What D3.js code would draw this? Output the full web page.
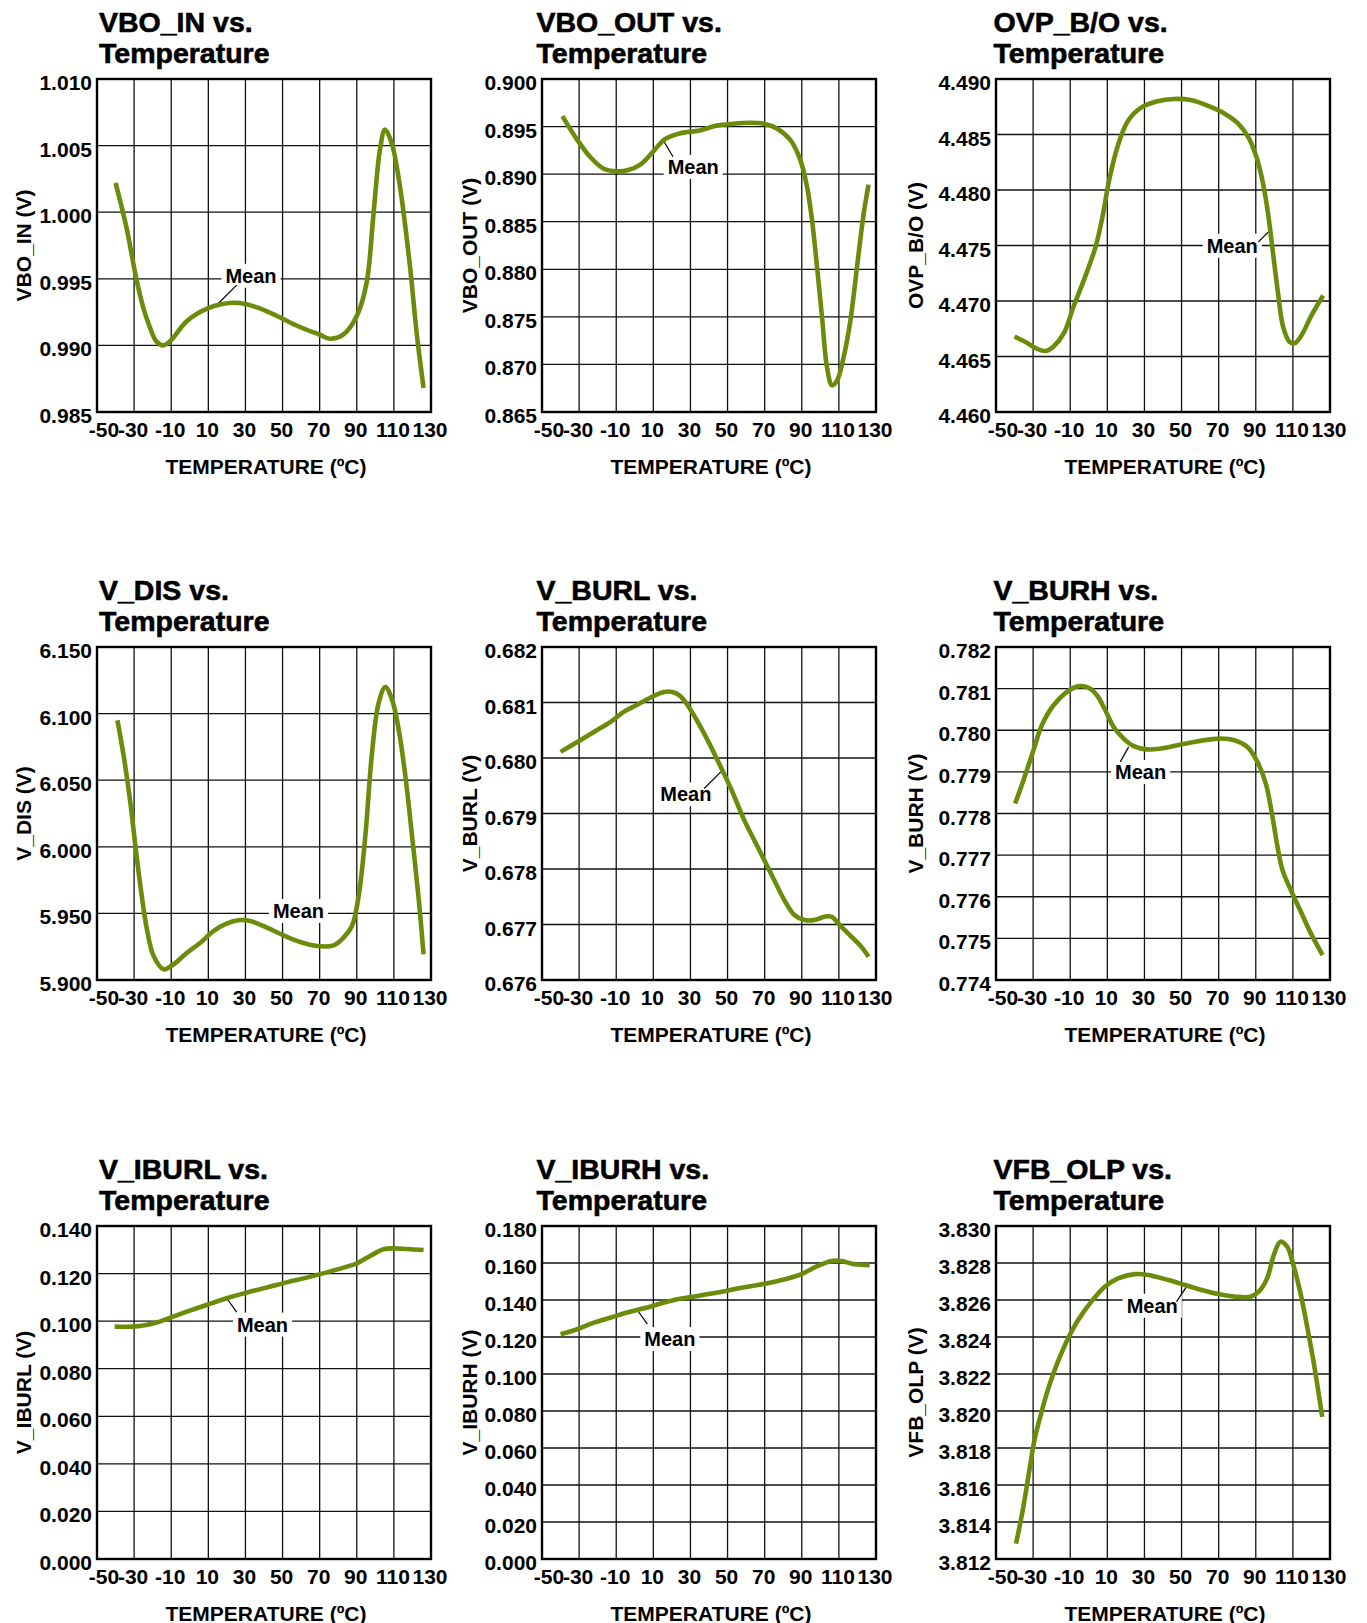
<!DOCTYPE html>
<html>
<head>
<meta charset="utf-8">
<script src="https://cdn.jsdelivr.net/npm/d3@7"></script>
<style>
  body { margin: 0; background: #fff; }
  svg text { font-family: "Liberation Sans", Arial, Helvetica, sans-serif; }
</style>
</head>
<body>
<div id="chart"></div>
<script>
// x axis, shared by every panel
var tempTicks = [-50, -30, -10, 10, 30, 50, 70, 90, 110, 130];

// VBO_IN
var vboInT = [-40, -34.2, -28.8, -25.2, -21.6, -18, -14.4, -10, -1.8, 10, 23, 30, 41, 50, 59, 70, 75.5, 82.7, 90, 95.3, 98.9, 102.5, 105.2, 108.8, 113.3, 118.7, 122.3, 126];
var vboInV = [1.0022, 0.9989, 0.9950, 0.9929, 0.9914, 0.9903, 0.9900, 0.9904, 0.9918, 0.9928, 0.9932, 0.9931, 0.9926, 0.9920, 0.9914, 0.9908, 0.9905, 0.9908, 0.9922, 0.9947, 0.9997, 1.0047, 1.0062, 1.0052, 1.0019, 0.9959, 0.9909, 0.9868];
var vboInTicks = [0.985, 0.990, 0.995, 1.000, 1.005, 1.010];

// VBO_OUT
var vboOutT = [-39, -31, -24, -17, -9.6, -4, 3, 10, 16.5, 24.6, 35, 44, 53, 62, 69.5, 76.6, 83.8, 89.2, 92.8, 95.5, 98.2, 100.9, 103.6, 106.3, 109, 112.6, 116.2, 119.8, 123.4, 126];
var vboOutV = [0.8961, 0.8936, 0.8918, 0.8906, 0.8903, 0.8904, 0.8910, 0.8924, 0.8937, 0.8943, 0.8946, 0.8951, 0.8953, 0.8954, 0.8953, 0.8948, 0.8936, 0.8915, 0.8887, 0.8852, 0.8803, 0.8750, 0.8697, 0.8678, 0.8683, 0.8708, 0.8746, 0.8803, 0.8859, 0.8889];
var vboOutTicks = [0.865, 0.870, 0.875, 0.880, 0.885, 0.890, 0.895, 0.900];

// OVP_B/O
var ovpT = [-40, -33, -28, -23, -19, -13.4, -8, -2.6, 3.7, 7.4, 11, 15.5, 21, 28, 37, 46, 55, 64, 73, 80.4, 85.8, 90.3, 93.9, 96.6, 99.3, 102, 104.7, 108.3, 111, 114.6, 120, 126.3];
var ovpV = [4.4668, 4.4662, 4.4657, 4.4655, 4.4659, 4.4671, 4.4696, 4.4719, 4.4749, 4.4776, 4.4809, 4.4839, 4.4862, 4.4874, 4.4880, 4.4882, 4.4881, 4.4876, 4.4869, 4.4860, 4.4848, 4.4830, 4.4806, 4.4779, 4.4743, 4.4707, 4.4677, 4.4663, 4.4662, 4.4669, 4.4687, 4.4705];
var ovpTicks = [4.460, 4.465, 4.470, 4.475, 4.480, 4.485, 4.490];

// V_DIS
var vDisT = [-39, -35.6, -32, -29.3, -26.6, -23.1, -19.5, -14.1, -8.7, -1.5, 5.7, 12.9, 20.1, 27.2, 32.6, 41.6, 50.6, 59.6, 68.6, 77.5, 82.9, 87.4, 91, 94.6, 98.2, 101.8, 105.4, 109, 112.6, 116.2, 119.8, 123.4, 126];
var vDisV = [6.095, 6.068, 6.033, 6.0005, 5.9705, 5.938, 5.918, 5.908, 5.9118, 5.9205, 5.928, 5.9368, 5.9425, 5.945, 5.9443, 5.9393, 5.9335, 5.9285, 5.9255, 5.926, 5.9318, 5.9405, 5.963, 6.008, 6.0705, 6.108, 6.120, 6.1105, 6.088, 6.053, 6.008, 5.9605, 5.9193];
var vDisTicks = [5.900, 5.950, 6.000, 6.050, 6.100, 6.150];

// V_BURL
var vBurlT = [-40, -31, -22, -13, -6, 1.4, 8.6, 15.8, 20.3, 24.8, 30.2, 37.4, 44.6, 51.8, 59, 66.2, 73.4, 80.6, 86, 91.4, 96.8, 102.2, 105.9, 111.3, 116.7, 122.1, 126];
var vBurlV = [0.68011, 0.68029, 0.68047, 0.68065, 0.68083, 0.68096, 0.68109, 0.68119, 0.68119, 0.68111, 0.68086, 0.68044, 0.67996, 0.67945, 0.67888, 0.6784, 0.67792, 0.67744, 0.67717, 0.67708, 0.67708, 0.67714, 0.67714, 0.67696, 0.67678, 0.6766, 0.67642];
var vBurlTicks = [0.676, 0.677, 0.678, 0.679, 0.680, 0.681, 0.682];

// V_BURH
var vBurhT = [-39.7, -35.2, -29.8, -25.3, -19, -11.8, -5.5, -0.1, 4.4, 8.9, 13.4, 18.8, 24.2, 31.4, 38.6, 47.7, 56.7, 65.7, 71.1, 78.3, 85.5, 90.9, 95.4, 99, 101.7, 104.4, 108.9, 114.3, 119.7, 126];
var vBurhV = [0.77824, 0.7788, 0.77952, 0.78012, 0.7806, 0.78092, 0.78106, 0.78102, 0.78084, 0.78048, 0.78008, 0.7798, 0.77962, 0.77954, 0.77956, 0.77964, 0.77972, 0.77978, 0.7798, 0.77976, 0.7796, 0.77924, 0.77872, 0.77792, 0.7772, 0.77664, 0.77616, 0.77564, 0.77512, 0.7746];
var vBurhTicks = [0.774, 0.775, 0.776, 0.777, 0.778, 0.779, 0.780, 0.781, 0.782];

// V_IBURL
var vIburlT = [-40.5, -30.6, -23.4, -16.2, -9, 0, 9, 19.8, 30.6, 41.4, 52.2, 63, 73.8, 84.6, 90, 97.2, 104.4, 109.8, 117, 126];
var vIburlV = [0.0977, 0.0977, 0.0984, 0.0998, 0.1019, 0.1044, 0.1068, 0.1096, 0.1120, 0.1141, 0.1163, 0.1183, 0.1205, 0.1229, 0.1243, 0.1274, 0.1302, 0.1306, 0.1303, 0.1299];
var vIburlTicks = [0.000, 0.020, 0.040, 0.060, 0.080, 0.100, 0.120, 0.140];

// V_IBURH
var vIburhT = [-40, -31, -22, -13, -4, 5, 14, 23, 33.8, 44.6, 55.4, 66.2, 77, 89.6, 98.6, 105.9, 111.3, 118.5, 126.6];
var vIburhV = [0.1215, 0.1242, 0.1278, 0.1305, 0.1332, 0.1355, 0.1381, 0.1404, 0.1422, 0.1440, 0.1462, 0.1481, 0.1503, 0.1539, 0.1584, 0.1611, 0.1611, 0.1593, 0.1588];
var vIburhTicks = [0.000, 0.020, 0.040, 0.060, 0.080, 0.100, 0.120, 0.140, 0.160, 0.180];

// VFB_OLP
var vfbOlpT = [-39.2, -35.6, -32, -29.3, -25.7, -22.1, -18.4, -14.8, -11.2, -5.8, 1.4, 8.6, 15.8, 24.8, 32, 42.9, 51.9, 60.9, 69.9, 79, 87.1, 91.6, 96.1, 99.7, 103.3, 106.9, 110.5, 114.1, 117.7, 121.3, 125.8];
var vfbOlpV = [3.81283, 3.81463, 3.8168, 3.81842, 3.81986, 3.82113, 3.82221, 3.82311, 3.82392, 3.82491, 3.82591, 3.82672, 3.82717, 3.8274, 3.82735, 3.82708, 3.82681, 3.82654, 3.82632, 3.82618, 3.82618, 3.82645, 3.82717, 3.82843, 3.82915, 3.82888, 3.8278, 3.82636, 3.82455, 3.82257, 3.81968];
var vfbOlpTicks = [3.812, 3.814, 3.816, 3.818, 3.820, 3.822, 3.824, 3.826, 3.828, 3.830];

// names, in panel order
var names = ["VBO_IN", "VBO_OUT", "OVP_B/O", "V_DIS", "V_BURL", "V_BURH", "V_IBURL", "V_IBURH", "VFB_OLP"];

// "Mean" callouts: label centre and leader ends, in (degC, V)
var meanAt = [[33, 0.99524], [31.5, 0.89078], [77.3, 4.475], [58.6, 5.952], [27.5, 0.67935], [27.9, 0.779], [39.2, 0.09863], [18.9, 0.119], [34.2, 3.8257]];
var leaderFrom = [[25.3, 0.99453], [20.6, 0.89183], [91.4, 4.47533], null, [37.4, 0.67945], [17.0, 0.77924], [25.3, 0.10375], [6.8, 0.12691], [47.3, 3.82591]];
var leaderTo = [[14.5, 0.99303], [15.5, 0.89351], [96.8, 4.47623], null, [46.4, 0.67975], [21.5, 0.7796], [19.9, 0.10963], [1.4, 0.13447], [52.7, 3.82672]];

/////////////////////////////////////

var series = [
	[vboInT, vboInV, vboInTicks],
	[vboOutT, vboOutV, vboOutTicks],
	[ovpT, ovpV, ovpTicks],
	[vDisT, vDisV, vDisTicks],
	[vBurlT, vBurlV, vBurlTicks],
	[vBurhT, vBurhV, vBurhTicks],
	[vIburlT, vIburlV, vIburlTicks],
	[vIburhT, vIburhV, vIburhTicks],
	[vfbOlpT, vfbOlpV, vfbOlpTicks]
];

// layout
var W = 1367, H = 1623;
var colLeft = [97, 542, 996];
var rowTop = [79, 647, 1226];
var plotW = 334, plotH = 333;
var titleDx = [2, -5.5, -2.5];
var yTitleGap = [66, 65, 73];
var lineColor = "#6b8c0b";
var fmt = d3.format(".3f");

var svg = d3.select("#chart").append("svg")
	.attr("width", W).attr("height", H)
	.attr("viewBox", "0 0 " + W + " " + H);

svg.append("rect").attr("width", W).attr("height", H).attr("fill", "#fff");

function drawPanel(i) {
	var col = i % 3, row = Math.floor(i / 3);
	var left = colLeft[col], top = rowTop[row];
	var tArr = series[i][0], vArr = series[i][1], yTicks = series[i][2];

	var x = d3.scaleLinear().domain([-50, 130]).range([0, plotW]);
	var y = d3.scaleLinear().domain([yTicks[0], yTicks[yTicks.length - 1]]).range([plotH, 0]);

	var g = svg.append("g").attr("transform", "translate(" + left + "," + top + ")");

	// title, two lines (a touch of stroke to get the heavy look)
	var title = g.append("text")
		.attr("x", titleDx[col])
		.attr("font-size", 28.5).attr("font-weight", "bold").attr("fill", "#000")
		.attr("stroke", "#000").attr("stroke-width", 0.6);
	title.append("tspan").attr("x", titleDx[col]).attr("y", -47).text(names[i] + " vs.");
	title.append("tspan").attr("x", titleDx[col]).attr("y", -16).text("Temperature");

	// grid
	g.append("g").selectAll("line.v").data(tempTicks).enter().append("line")
		.attr("x1", function(d) { return x(d); }).attr("x2", function(d) { return x(d); })
		.attr("y1", 0).attr("y2", plotH)
		.attr("stroke", "#111").attr("stroke-width", 1.3);
	g.append("g").selectAll("line.h").data(yTicks).enter().append("line")
		.attr("x1", 0).attr("x2", plotW)
		.attr("y1", function(d) { return y(d); }).attr("y2", function(d) { return y(d); })
		.attr("stroke", "#111").attr("stroke-width", 1.3);

	// frame
	g.append("rect").attr("width", plotW).attr("height", plotH)
		.attr("fill", "none").attr("stroke", "#000").attr("stroke-width", 2.4);

	// y tick labels
	g.append("g").selectAll("text").data(yTicks).enter().append("text")
		.attr("x", -5).attr("y", function(d) { return y(d) + 11; })
		.attr("text-anchor", "end").attr("font-size", 21).attr("font-weight", "bold")
		.text(function(d) { return fmt(d); });

	// x tick labels; -50 sits just inside so it runs into -30
	g.append("g").selectAll("text").data(tempTicks).enter().append("text")
		.attr("x", function(d) { return x(d) + (d === -50 ? 7 : -1); }).attr("y", plotH + 25)
		.attr("text-anchor", "middle").attr("font-size", 21).attr("font-weight", "bold")
		.text(function(d) { return d; });

	// axis titles
	g.append("text")
		.attr("x", plotW / 2 + 2).attr("y", plotH + 62)
		.attr("text-anchor", "middle").attr("font-size", 21).attr("font-weight", "bold")
		.text("TEMPERATURE (\u00baC)");
	g.append("text")
		.attr("transform", "translate(" + (-yTitleGap[col]) + "," + (plotH / 2) + ") rotate(-90)")
		.attr("text-anchor", "middle").attr("font-size", 21).attr("font-weight", "bold")
		.text(names[i] + " (V)");

	// "Mean" callout: white box knocks out the grid
	var label = g.append("text")
		.attr("x", x(meanAt[i][0])).attr("y", y(meanAt[i][1]))
		.attr("dy", "0.36em")
		.attr("text-anchor", "middle").attr("font-size", 20).attr("font-weight", "bold")
		.text("Mean");
	var bb = label.node().getBBox();
	g.insert("rect", function() { return label.node(); })
		.attr("x", bb.x - 4).attr("y", bb.y - 1)
		.attr("width", bb.width + 8).attr("height", bb.height + 2)
		.attr("fill", "#fff");
	if (leaderFrom[i]) {
		g.append("line")
			.attr("x1", x(leaderFrom[i][0])).attr("y1", y(leaderFrom[i][1]))
			.attr("x2", x(leaderTo[i][0])).attr("y2", y(leaderTo[i][1]))
			.attr("stroke", "#000").attr("stroke-width", 1.2);
	}

	// the curve
	var pts = tArr.map(function(t, k) { return [t, vArr[k]]; });
	var line = d3.line()
		.x(function(d) { return x(d[0]); })
		.y(function(d) { return y(d[1]); })
		.curve(d3.curveCatmullRom.alpha(0.5));
	g.append("path").datum(pts)
		.attr("d", line)
		.attr("fill", "none").attr("stroke", lineColor)
		.attr("stroke-width", 4.6).attr("stroke-linejoin", "round").attr("stroke-linecap", "butt");
}

for (var i = 0; i < series.length; i++) {
	drawPanel(i);
}
</script>
</body>
</html>
